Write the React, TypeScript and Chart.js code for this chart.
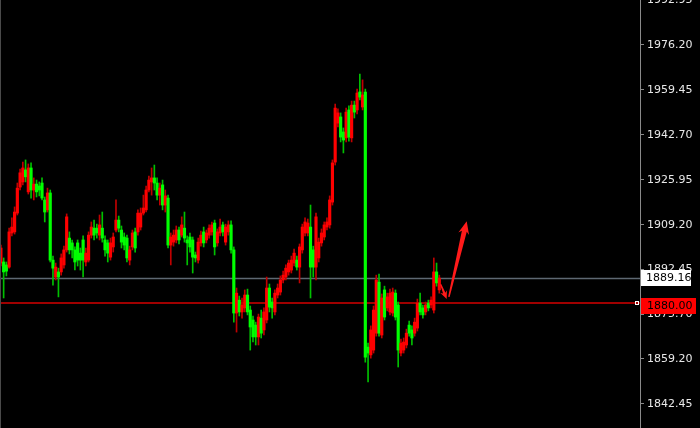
import { useEffect, useRef } from "react";
import { Chart, registerables } from "chart.js";
Chart.register(...registerables);

// OHLC candles (price units), oldest first
const opens = [
  1894.9,1895.3,1894.2,1893.4,1906.1,1906.5,1913.5,1923.2,1925.1,1929.6,
  1921.4,1930.3,1922.1,1924.3,1923.6,1924.7,1918.4,1914.7,1921.0,1896.0,
  1889.7,1891.6,1891.6,1894.2,1899.8,1904.2,1902.4,1899.8,1902.4,1898.6,
  1903.5,1895.3,1896.0,1905.3,1907.9,1907.9,1905.3,1907.9,1903.5,1902.4,
  1897.1,1900.9,1907.2,1910.9,1907.2,1904.6,1904.2,1896.0,1900.9,1906.5,
  1906.5,1908.3,1913.5,1914.7,1922.1,1925.1,1926.6,1924.7,1920.2,1924.0,
  1916.5,1919.1,1901.6,1902.7,1903.5,1907.2,1905.3,1907.9,1903.5,1904.6,
  1903.5,1897.9,1896.0,1902.4,1906.5,1903.5,1905.3,1906.5,1909.8,1902.4,
  1906.1,1909.1,1902.7,1906.5,1909.1,1899.8,1876.3,1881.1,1876.7,1878.2,
  1883.0,1877.4,1873.7,1871.8,1867.4,1874.4,1870.0,1873.7,1885.6,1880.4,
  1876.7,1883.0,1884.1,1888.6,1889.7,1891.6,1892.3,1894.9,1896.0,1893.4,
  1899.8,1906.1,1906.1,1908.3,1899.8,1893.4,1896.8,1902.4,1904.6,1908.3,
  1909.1,1917.6,1932.5,1947.0,1949.3,1943.7,1941.5,1951.9,1941.5,1953.7,
  1951.9,1958.6,1953.0,1958.6,1863.6,1860.7,1862.5,1868.8,1887.8,1868.1,
  1884.9,1878.2,1876.7,1876.3,1883.7,1879.3,1861.4,1862.5,1864.4,1871.8,
  1870.0,1868.8,1870.7,1880.0,1878.2,1876.7,1880.0,1879.3,1877.4,1891.6,
  1884.9,
];
const closes = [
  1900.5,1891.6,1891.9,1906.5,1908.3,1913.9,1922.8,1928.5,1930.3,1927.0,
  1930.3,1922.1,1924.3,1921.4,1922.1,1919.1,1913.9,1921.0,1896.0,1893.0,
  1893.4,1889.7,1896.8,1899.8,1912.1,1899.8,1899.8,1895.3,1896.0,1896.0,
  1896.0,1898.6,1905.3,1908.3,1905.3,1906.1,1909.1,1904.2,1899.8,1898.6,
  1902.4,1904.6,1910.9,1907.9,1902.7,1901.6,1896.8,1899.8,1906.1,1900.5,
  1913.5,1913.5,1915.4,1922.1,1925.8,1926.6,1924.7,1920.2,1922.8,1916.5,
  1919.9,1901.6,1904.6,1905.3,1907.2,1903.5,1909.1,1904.2,1902.4,1900.9,
  1897.1,1896.8,1902.7,1905.3,1902.4,1906.1,1907.9,1909.1,1900.9,1906.5,
  1908.3,1906.5,1908.3,1909.1,1899.8,1876.3,1883.7,1876.7,1879.3,1883.0,
  1876.7,1871.1,1867.4,1867.4,1874.8,1868.8,1876.7,1885.6,1878.5,1878.2,
  1883.7,1885.6,1888.6,1890.4,1893.0,1894.9,1896.0,1898.6,1893.4,1900.9,
  1908.3,1910.2,1909.8,1893.4,1893.4,1912.1,1902.7,1906.1,1909.1,1910.2,
  1918.4,1932.2,1952.6,1950.8,1941.8,1940.7,1951.1,1941.8,1953.7,1951.1,
  1958.2,1956.7,1957.5,1859.9,1861.4,1870.0,1877.4,1888.6,1868.8,1881.9,
  1874.8,1882.3,1883.7,1884.1,1874.8,1862.5,1865.1,1865.5,1868.8,1868.8,
  1867.0,1872.9,1880.0,1876.7,1875.6,1879.3,1878.2,1881.1,1891.6,1887.5,
  1889.3,
];
const highs = [
  1901.6,1896.8,1895.3,1907.9,1911.7,1915.8,1924.7,1929.9,1932.5,1933.3,
  1931.8,1932.2,1926.6,1925.8,1925.1,1926.6,1919.5,1922.8,1922.1,1897.5,
  1894.9,1893.0,1898.3,1901.2,1913.2,1906.5,1903.5,1900.9,1903.5,1900.5,
  1905.0,1900.5,1906.5,1910.2,1910.9,1909.4,1912.8,1913.9,1905.0,1903.5,
  1904.2,1906.1,1918.4,1912.4,1908.7,1906.1,1905.3,1901.2,1907.2,1907.9,
  1914.7,1915.4,1920.2,1923.6,1927.3,1930.3,1931.4,1926.6,1924.7,1925.8,
  1922.1,1920.2,1906.1,1907.2,1908.7,1908.3,1912.1,1913.9,1905.0,1906.1,
  1904.6,1899.0,1904.2,1906.8,1908.3,1907.2,1909.1,1910.2,1910.9,1907.6,
  1911.3,1910.2,1909.4,1910.6,1910.6,1900.9,1885.6,1882.6,1881.9,1884.9,
  1885.2,1878.9,1875.2,1872.9,1875.9,1877.4,1878.2,1889.7,1887.1,1881.9,
  1884.9,1887.1,1890.1,1891.9,1894.2,1896.0,1897.5,1900.1,1897.5,1902.0,
  1909.4,1911.7,1911.3,1916.5,1901.2,1913.5,1904.2,1907.6,1910.2,1911.7,
  1919.9,1933.3,1954.1,1952.3,1950.8,1945.2,1952.6,1953.4,1955.2,1955.2,
  1959.7,1965.3,1963.1,1959.7,1865.1,1871.5,1878.9,1890.4,1890.8,1883.4,
  1886.3,1883.7,1885.2,1885.6,1884.9,1880.4,1866.6,1867.0,1870.3,1873.3,
  1871.5,1874.4,1881.5,1883.7,1879.3,1880.4,1881.1,1882.3,1896.8,1894.9,
  1890.4,
];
const lows = [
  1893.8,1881.9,1890.1,1893.0,1905.0,1905.7,1912.8,1922.1,1924.0,1925.1,
  1920.6,1919.1,1918.4,1919.5,1919.9,1918.4,1910.2,1913.9,1895.3,1886.7,
  1888.6,1882.3,1890.4,1893.0,1899.0,1898.3,1896.8,1892.3,1893.8,1892.3,
  1889.7,1893.8,1895.3,1904.2,1903.5,1904.2,1903.5,1902.7,1897.5,1895.3,
  1896.0,1899.0,1906.5,1906.5,1900.5,1899.8,1895.3,1894.2,1899.8,1899.0,
  1905.3,1907.2,1912.8,1913.9,1921.4,1920.2,1922.1,1918.4,1916.5,1914.7,
  1913.9,1900.5,1894.2,1901.2,1902.4,1902.0,1904.6,1902.7,1894.2,1899.0,
  1891.2,1895.3,1894.9,1901.2,1900.9,1902.4,1904.2,1905.3,1897.9,1901.2,
  1905.0,1905.0,1901.6,1905.3,1898.6,1872.9,1869.2,1875.2,1874.4,1876.7,
  1875.6,1862.5,1865.5,1864.4,1864.4,1867.0,1868.1,1872.6,1876.7,1874.4,
  1875.6,1881.9,1883.0,1887.5,1888.6,1890.4,1891.2,1893.8,1892.3,1887.5,
  1898.6,1905.0,1905.0,1881.9,1889.7,1888.6,1895.3,1901.2,1903.5,1907.2,
  1907.9,1916.5,1931.4,1945.6,1940.0,1935.9,1940.0,1940.3,1940.0,1948.9,
  1950.4,1955.6,1951.9,1858.0,1850.6,1859.5,1861.4,1867.7,1867.7,1867.0,
  1873.7,1877.1,1875.6,1875.2,1873.7,1856.2,1860.3,1861.4,1863.3,1867.7,
  1864.4,1867.7,1869.6,1875.6,1874.4,1875.6,1877.1,1878.2,1876.3,1886.3,
  1883.7,
];

const yTicks = [1992.95, 1976.2, 1959.45, 1942.7, 1925.95, 1909.2, 1892.45, 1875.7, 1859.2, 1842.45];
const bidLevel = 1889.16;
const markLevel = 1880.0;
// arrow annotations in data units: [index, price]
const arrowDown = [[160.5, 1887.0], [162.7, 1881.5]];
const arrowUp = [[163.5, 1882.3], [170.0, 1910.5]];

const Y_MIN = 1833.49;
const Y_MAX = 1992.84;
const X_MIN = -0.33;
const X_MAX = 233.25;

const UP_BODY = "#ff0000";
const DOWN_BODY = "#00ff00";
const UP_WICK = "#c00000";
const DOWN_WICK = "#00c000";
const FONT = "DejaVu Sans";

function drawArrow(ctx: CanvasRenderingContext2D, x1: number, y1: number, x2: number, y2: number,
  w1: number, w2: number, hw: number, hl: number) {
  const dx = x2 - x1, dy = y2 - y1, len = Math.hypot(dx, dy);
  const ux = dx / len, uy = dy / len, nx = -uy, ny = ux;
  const bx = x2 - ux * hl, by = y2 - uy * hl;
  const nbx = x2 - ux * hl * 0.8, nby = y2 - uy * hl * 0.8;
  ctx.beginPath();
  ctx.moveTo(x1 + nx * w1 / 2, y1 + ny * w1 / 2);
  ctx.lineTo(nbx + nx * w2 / 2, nby + ny * w2 / 2);
  ctx.lineTo(bx + nx * hw / 2, by + ny * hw / 2);
  ctx.lineTo(x2, y2);
  ctx.lineTo(bx - nx * hw / 2, by - ny * hw / 2);
  ctx.lineTo(nbx - nx * w2 / 2, nby - ny * w2 / 2);
  ctx.lineTo(x1 - nx * w1 / 2, y1 - ny * w1 / 2);
  ctx.closePath();
  ctx.fill();
}

const overlayPlugin = {
  id: "overlay",
  afterDatasetsDraw(chart: any) {
    const { ctx, scales } = chart;
    const xs = scales.x, ys = scales.y;
    ctx.save();
    ctx.fillStyle = "#ff1a1a";
    const p = (pt: number[]) => [xs.getPixelForValue(pt[0]), ys.getPixelForValue(pt[1])];
    const [a1x, a1y] = p(arrowDown[0]);
    const [a2x, a2y] = p(arrowDown[1]);
    drawArrow(ctx, a1x, a1y, a2x, a2y, 1.2, 2.5, 7, 8);
    const [b1x, b1y] = p(arrowUp[0]);
    const [b2x, b2y] = p(arrowUp[1]);
    drawArrow(ctx, b1x, b1y, b2x, b2y, 1.5, 5, 11, 13);
    ctx.restore();
  },
  afterDraw(chart: any) {
    const { ctx, scales, chartArea } = chart;
    const ys = scales.y;
    ctx.save();
    // left border
    ctx.strokeStyle = "#4a4a4a";
    ctx.lineWidth = 1;
    ctx.beginPath();
    ctx.moveTo(0.5, 0);
    ctx.lineTo(0.5, chart.height);
    ctx.stroke();

    const ax = chartArea.right;
    ctx.font = `11px ${FONT}`;
    ctx.textBaseline = "middle";
    ctx.textAlign = "left";
    // bid label
    const yb = ys.getPixelForValue(bidLevel);
    ctx.fillStyle = "#ffffff";
    ctx.fillRect(ax + 1, Math.round(yb) - 8, 50, 16);
    ctx.fillStyle = "#000000";
    ctx.fillText(bidLevel.toFixed(2), ax + 6, Math.round(yb) + 0.5);
    // mark label
    const ym = ys.getPixelForValue(markLevel);
    ctx.fillStyle = "#ff0000";
    ctx.fillRect(ax + 1, Math.round(ym) - 5, 55, 16);
    ctx.fillStyle = "#000000";
    ctx.fillText(markLevel.toFixed(2), ax + 7, Math.round(ym) + 3.5);
    // small marker square
    ctx.strokeStyle = "#ffffff";
    ctx.lineWidth = 1;
    ctx.strokeRect(ax - 4.5, Math.round(ym) - 1.5, 3, 3);
    ctx.restore();
  },
};

export default function App() {
  const ref = useRef<HTMLCanvasElement | null>(null);
  useEffect(() => {
    if (!ref.current) return;
    Chart.defaults.font.family = FONT;
    const up = opens.map((o, i) => closes[i] >= o);
    const chart = new Chart(ref.current, {
      type: "bar",
      data: {
        datasets: [
          {
            type: "bar",
            label: "body",
            data: opens.map((o, i) => ({ x: i, y: [o, closes[i]] })) as any,
            backgroundColor: up.map((u) => (u ? UP_BODY : DOWN_BODY)),
            borderWidth: 0,
            barThickness: 2.5,
            grouped: false,
            minBarLength: 1,
            order: 0,
          } as any,
          {
            type: "bar",
            label: "wick",
            data: opens.map((_, i) => ({ x: i, y: [lows[i], highs[i]] })) as any,
            backgroundColor: up.map((u) => (u ? UP_WICK : DOWN_WICK)),
            borderWidth: 0,
            barThickness: 1,
            grouped: false,
            order: 1,
          } as any,
          {
            type: "line",
            label: "bid",
            data: [{ x: X_MIN - 5, y: bidLevel }, { x: X_MAX + 5, y: bidLevel }],
            borderColor: "#5e6872",
            borderWidth: 1.5,
            pointRadius: 0,
            order: 2,
          } as any,
          {
            type: "line",
            label: "mark",
            data: [{ x: X_MIN - 5, y: markLevel }, { x: X_MAX + 5, y: markLevel }],
            borderColor: "#a00000",
            borderWidth: 2,
            pointRadius: 0,
            order: 3,
          } as any,
        ],
      },
      options: {
        animation: false,
        responsive: false,
        events: [],
        layout: { padding: 0 },
        plugins: { legend: { display: false }, tooltip: { enabled: false } },
        scales: {
          x: {
            type: "linear",
            min: X_MIN,
            max: X_MAX,
            offset: false,
            display: false,
          },
          y: {
            position: "right",
            min: Y_MIN,
            max: Y_MAX,
            afterBuildTicks: (s: any) => {
              s.ticks = yTicks.map((v) => ({ value: v }));
            },
            afterFit: (s: any) => {
              s.width = 60;
              s.paddingTop = 0;
              s.paddingBottom = 0;
            },
            ticks: {
              autoSkip: false,
              color: "#e8e8e8",
              font: { size: 11, family: FONT },
              padding: 3,
              callback: (v: any) => Number(v).toFixed(2),
            },
            grid: { drawOnChartArea: false, drawTicks: true, tickLength: 4, color: "#8a8a8a" },
            border: { display: true, color: "#8a8a8a", width: 1 },
          },
        },
      },
      plugins: [overlayPlugin],
    });
    return () => chart.destroy();
  }, []);
  return (
    <div style={{ position: "fixed", left: 0, top: 0, width: 700, height: 428, background: "#000" }}>
      <canvas ref={ref} width={700} height={428} style={{ display: "block" }} />
    </div>
  );
}
